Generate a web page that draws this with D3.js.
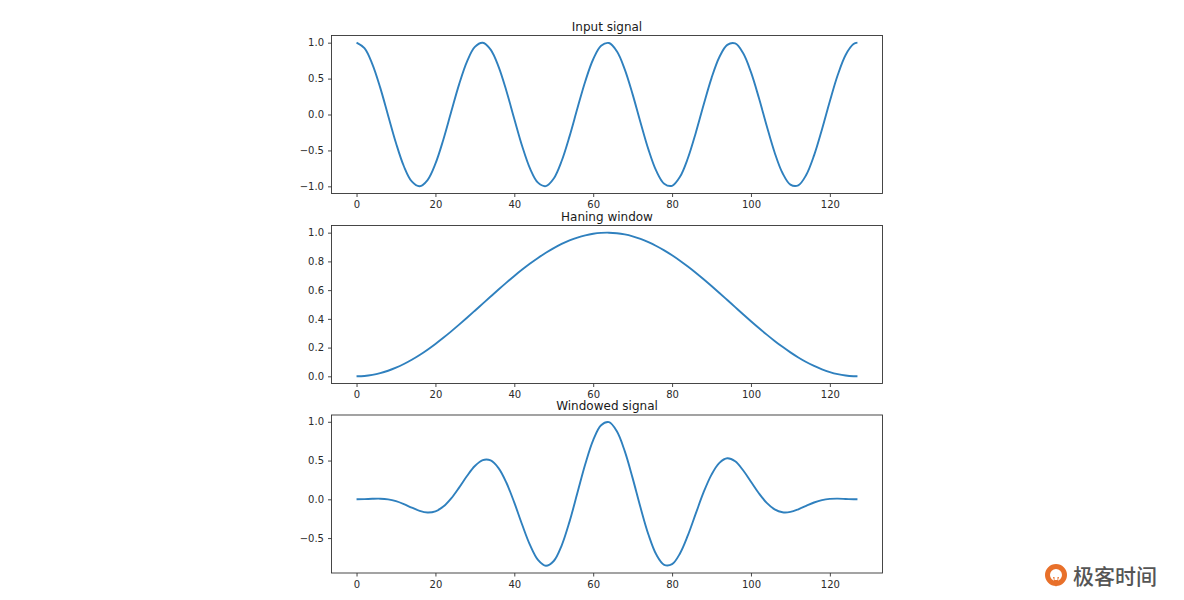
<!DOCTYPE html>
<html>
<head>
<meta charset="utf-8">
<script src="https://cdn.jsdelivr.net/npm/d3@7/dist/d3.min.js"></script>
<style>
  html, body { margin: 0; padding: 0; background: #fff; }
  svg { display: block; }
  .tick text { font-family: "DejaVu Sans", sans-serif; font-size: 10px; fill: #2a2a2a; }
  .title { font-family: "DejaVu Sans", sans-serif; font-size: 12px; fill: #1a1a1a; }
</style>
</head>
<body>
<svg id="chart" width="1184" height="600"></svg>
<script>
// sample indices (every other sample plus the last one)
const sampleIdx = [0,2,4,6,8,10,12,14,16,18,20,22,24,26,28,30,32,34,36,38,40,42,44,46,48,50,52,54,56,58,60,62,
  64,66,68,70,72,74,76,78,80,82,84,86,88,90,92,94,96,98,100,102,104,106,108,110,112,114,116,118,120,122,124,126,127];

const inputSignal = [
  1, 0.9227, 0.7027, 0.3742, -0.0124, -0.3969, -0.7203, -0.9319, -0.9997, -0.9129, -0.6850, -0.3510, 0.0371, 0.4195, 0.7371, 0.9406,
  0.9988, 0.9025, 0.6668, 0.3278, -0.0618, -0.4418, -0.7537, -0.9487, -0.9972, -0.8916, -0.6474, -0.3043, 0.0865, 0.4639, 0.7694, 0.9563,
  0.9951, 0.8801, 0.6290, 0.2806, -0.1111, -0.4857, -0.7853, -0.9632, -0.9924, -0.8681, -0.6095, -0.2568, 0.1356, 0.5071, 0.8003, 0.9696,
  0.9890, 0.8555, 0.5897, 0.2328, -0.1601, -0.5281, -0.8149, -0.9753, -0.9850, -0.8425, -0.5696, -0.2087, 0.1844, 0.5492, 0.8289, 0.9805,
  1];

const hanningWindow = [
  0, 0.0024, 0.0098, 0.0219, 0.0387, 0.0600, 0.0856, 0.1153, 0.1486, 0.1855, 0.2254, 0.2681, 0.3129, 0.3597, 0.4078, 0.4568,
  0.5062, 0.5555, 0.6044, 0.6522, 0.6985, 0.7428, 0.7849, 0.8241, 0.8602, 0.8927, 0.9213, 0.9457, 0.9660, 0.9816, 0.9925, 0.9986,
  0.9999, 0.9962, 0.9877, 0.9744, 0.9565, 0.9340, 0.9074, 0.8768, 0.8425, 0.8047, 0.7640, 0.7209, 0.6755, 0.6284, 0.5801, 0.5309,
  0.4815, 0.4322, 0.3836, 0.3361, 0.2903, 0.2464, 0.2051, 0.1667, 0.1314, 0.0999, 0.0723, 0.0488, 0.0297, 0.0152, 0.0055, 0.0006,
  0];

const windowedSignal = [
  0, 0.0022, 0.0069, 0.0082, -0.0005, -0.0238, -0.0617, -0.1074, -0.1486, -0.1693, -0.1544, -0.0941, 0.0116, 0.1509, 0.3006, 0.4297,
  0.5056, 0.5013, 0.4030, 0.2138, -0.0432, -0.3282, -0.5916, -0.7818, -0.8578, -0.7959, -0.5965, -0.2878, 0.0836, 0.4554, 0.7636, 0.9550,
  0.9950, 0.8768, 0.6213, 0.2734, -0.1063, -0.4536, -0.7126, -0.8445, -0.8361, -0.6986, -0.4657, -0.1851, 0.0916, 0.3187, 0.4700, 0.5300,
  0.4900, 0.3750, 0.2262, 0.0782, -0.0465, -0.1301, -0.1671, -0.1626, -0.1294, -0.0842, -0.0412, -0.0102, 0.0055, 0.0083, 0.0046, 0.0006,
  0];

const panelTitles = ["Input signal", "Haning window", "Windowed signal"];
const xTicks = [0, 20, 40, 60, 80, 100, 120];
const yTicks1 = [-1.0, -0.5, 0.0, 0.5, 1.0];
const yTicks2 = [0.0, 0.2, 0.4, 0.6, 0.8, 1.0];
const yTicks3 = [-0.5, 0.0, 0.5, 1.0];

const svg = d3.select("#chart");
const left = 331.5, right = 882.5;
const panels = [
  { top: 35.5, bottom: 193.5, values: inputSignal, ticks: yTicks1, title: panelTitles[0] },
  { top: 225.5, bottom: 383.5, values: hanningWindow, ticks: yTicks2, title: panelTitles[1] },
  { top: 415, bottom: 573, values: windowedSignal, ticks: yTicks3, title: panelTitles[2] }
];

const xExt = d3.extent(sampleIdx);
const xPad = (xExt[1] - xExt[0]) * 0.05;
const x = d3.scaleLinear().domain([xExt[0] - xPad, xExt[1] + xPad]).range([left, right]);

panels.forEach(p => {
  const ext = d3.extent(p.values);
  const pad = (ext[1] - ext[0]) * 0.05;
  const y = d3.scaleLinear().domain([ext[0] - pad, ext[1] + pad]).range([p.bottom, p.top]);
  const g = svg.append("g");

  const line = d3.line()
    .x((d, i) => x(sampleIdx[i]))
    .y(d => y(d))
    .curve(d3.curveCatmullRom.alpha(0.5));

  g.append("path")
    .datum(p.values)
    .attr("d", line)
    .attr("fill", "none")
    .attr("stroke", "#2f80be")
    .attr("stroke-width", 1.9)
    .attr("stroke-linejoin", "round");

  const xAxis = g.append("g")
    .attr("transform", `translate(0,${p.bottom})`)
    .call(d3.axisBottom(x).tickValues(xTicks).tickFormat(d3.format("d")).tickSize(3.5).tickPadding(4));
  const yAxis = g.append("g")
    .attr("transform", `translate(${left},0)`)
    .call(d3.axisLeft(y).tickValues(p.ticks).tickFormat(d3.format(".1f")).tickSize(3.5).tickPadding(4));
  [xAxis, yAxis].forEach(a => {
    a.select(".domain").remove();
    a.selectAll(".tick line").attr("stroke", "#333").attr("stroke-width", 0.9);
  });

  g.append("rect")
    .attr("x", left).attr("y", p.top)
    .attr("width", right - left).attr("height", p.bottom - p.top)
    .attr("fill", "none").attr("stroke", "#333").attr("stroke-width", 0.9);

  g.append("text")
    .attr("class", "title")
    .attr("x", (left + right) / 2)
    .attr("y", p.top - 5)
    .attr("text-anchor", "middle")
    .text(p.title);
});

// watermark logo
const logo = svg.append("g").attr("transform", "translate(1056,575)");
logo.append("circle").attr("r", 8.5).attr("fill", "none").attr("stroke", "#e8702a").attr("stroke-width", 5);
logo.append("path").attr("d", "M-3,2 L0,12 L3,2 Z").attr("fill", "#e8702a");
logo.append("rect").attr("x", -1.5).attr("y", -3).attr("width", 3).attr("height", 8).attr("fill", "#fff");
svg.append("text")
  .attr("x", 1073).attr("y", 584)
  .attr("font-family", "Noto Sans CJK SC")
  .attr("font-size", 21)
  .attr("font-weight", 500)
  .attr("fill", "#555")
  .text("极客时间");
</script>
</body>
</html>
